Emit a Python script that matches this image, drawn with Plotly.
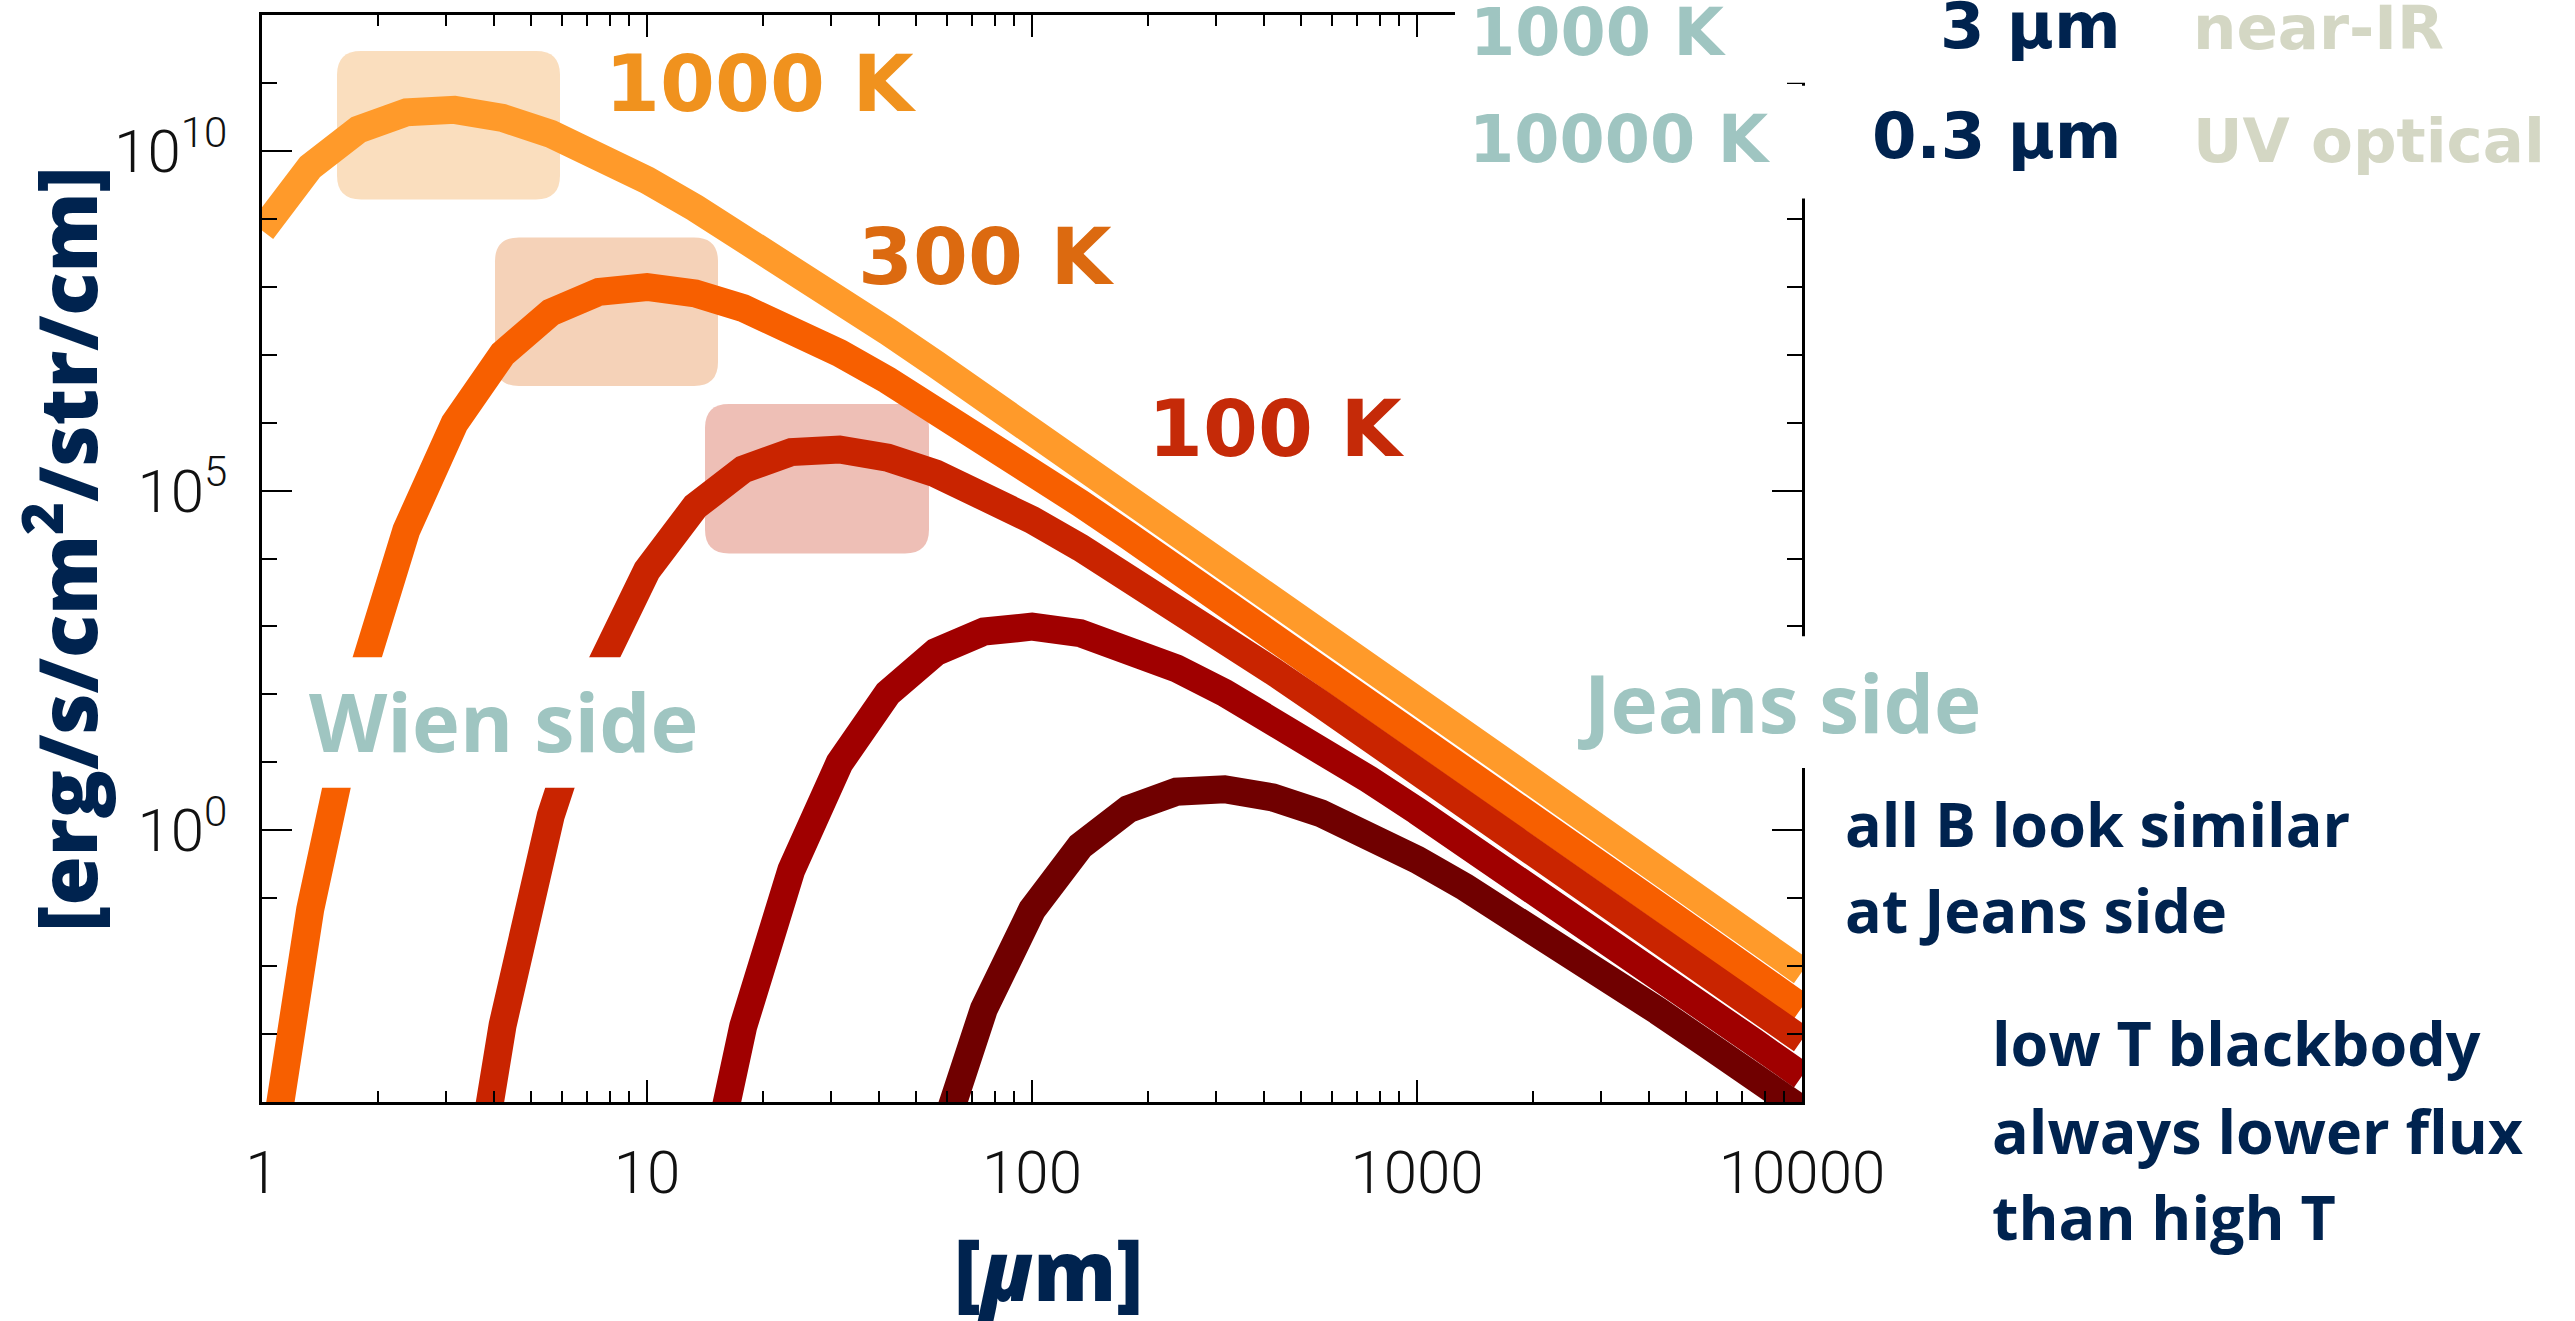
import plotly.graph_objects as go

# ---------------- data ----------------
WAVELENGTH_UM = [1, 1.334, 1.778, 2.371, 3.162, 4.217, 5.623, 7.499,
                 10, 13.34, 17.78, 23.71, 31.62, 42.17, 56.23, 74.99,
                 100, 133.4, 177.8, 237.1, 316.2, 421.7, 562.3, 749.9,
                 1000, 1334, 1778, 2371, 3162, 4217, 5623, 7499, 10000]

B_1000K = [6.72e8, 5.82e9, 2.05e10, 3.69e10, 4.02e10, 3.05e10, 1.78e10, 8.64e9,
           3.70e9, 1.45e9, 5.38e8, 1.90e8, 6.54e7, 2.20e7, 7.26e6, 2.37e6,
           7.70e5, 2.48e5, 7.95e4, 2.54e4, 8.09e3, 2.57e3, 817, 259,
           82.2, 26.0, 8.25, 2.61, 0.826, 0.261, 0.0827, 0.0262, 0.00827]
B_300K = [1.77e-6, 0.0678, 130, 2.61e4, 9.76e5, 1.03e7, 4.19e7, 8.40e7,
          9.92e7, 7.96e7, 4.84e7, 2.42e7, 1.06e7, 4.22e6, 1.57e6, 5.61e5,
          1.93e5, 6.53e4, 2.16e4, 7.09e3, 2.30e3, 741, 238, 76.0,
          24.2, 7.71, 2.45, 0.777, 0.246, 0.0781, 0.0247, 0.00783, 0.00248]
B_100K = [6.55e-8, 1.36e-3, 1.64, 234,
          6.72e3, 5.82e4, 2.05e5, 3.69e5, 4.02e5, 3.05e5, 1.78e5, 8.64e4,
          3.70e4, 1.45e4, 5.38e3, 1.90e3, 654, 220, 72.6, 23.7,
          7.70, 2.48, 0.795, 0.254, 0.0809, 0.0257, 0.00817, 0.00259, 8.22e-4]
B_30K = [6.78e-7, 1.30e-3, 0.261, 9.76, 103, 419, 840,
         992, 796, 484, 242, 106, 42.2, 15.7, 5.61,
         1.93, 0.653, 0.216, 0.0709, 0.0230, 0.00742, 0.00238, 7.60e-4, 2.42e-4]
B_10K = [1.64e-5, 2.34e-3,
         0.0672, 0.582, 2.05, 3.69, 4.02, 3.05, 1.78, 0.864,
         0.370, 0.145, 0.0538, 0.0190, 6.54e-3, 2.20e-3, 7.26e-4, 2.37e-4, 7.70e-5]

SERIES = [("1000 K", B_1000K, "#FF9A2A"),
          ("300 K", B_300K, "#F75F00"),
          ("100 K", B_100K, "#C92400"),
          ("30 K", B_30K, "#A00000"),
          ("10 K", B_10K, "#700000")]

X_TICKS = [1, 10, 100, 1000, 10000]
X_TICK_TEXT = ["1", "10", "100", "1000", "10000"]
X_MINOR = [m * 10 ** e for e in range(4) for m in range(2, 10)]
Y_TICKS = [1, 1e5, 1e10]
Y_TICK_TEXT = ["10<sup>0</sup>", "10<sup>5</sup>", "10<sup>10</sup>"]
Y_MINOR = [10.0 ** e for e in range(-4, 13)]

# ---------------- layout helpers (pixels -> paper) ----------------
W, H = 2575, 1321
L, R, T, B = 262, 1802, 12, 1102


def px(x):
    return (x - L) / (R - L)


def py(y):
    return (B - y) / (B - T)


NAVY = "#00234F"
TEAL = "#9FC5C1"
BEIGE = "#D4D7C4"

fig = go.Figure()
for name, vals, col in SERIES:
    n = len(vals)
    fig.add_trace(go.Scatter(x=WAVELENGTH_UM[-n:], y=vals, mode="lines", name=name,
                             line=dict(color=col, width=28), showlegend=False,
                             hoverinfo="skip"))


def rounded(x0, y0, x1, y1, r):
    def P(x, y):
        return f"{px(x):.5f},{py(y):.5f}"
    return (f"M {P(x0 + r, y0)} L {P(x1 - r, y0)} Q {P(x1, y0)} {P(x1, y0 + r)} "
            f"L {P(x1, y1 - r)} Q {P(x1, y1)} {P(x1 - r, y1)} "
            f"L {P(x0 + r, y1)} Q {P(x0, y1)} {P(x0, y1 - r)} "
            f"L {P(x0, y0 + r)} Q {P(x0, y0)} {P(x0 + r, y0)} Z")


shapes = []
for (x0, y0, x1, y1, c) in [(337, 48, 560, 197, "#FADEBE"),
                            (495, 235, 718, 384, "#F5D2B8"),
                            (705, 402, 929, 552, "#EEBFB6")]:
    shapes.append(dict(type="path", path=rounded(x0, y0, x1, y1, 24), xref="paper", yref="paper",
                       fillcolor=c, line=dict(width=0), layer="below"))

for (x0, y0, x1, y1) in [(1455, -10, 2575, 80), (1455, 83, 2575, 196),
                         (287, 656, 708, 787), (1556, 635, 1998, 767)]:
    shapes.append(dict(type="rect", x0=px(x0), x1=px(x1), y0=py(y0), y1=py(y1),
                       xref="paper", yref="paper", fillcolor="white", line=dict(width=0),
                       layer="above"))

ann = []


def label(text, x, y, size, color, family, weight, xanchor="left", angle=0):
    ann.append(dict(text=text, x=px(x), y=py(y), xref="paper", yref="paper",
                    xanchor=xanchor, yanchor="middle", showarrow=False, textangle=angle,
                    font=dict(size=size, color=color, family=family, weight=weight)))


HEAVY = "DejaVu Sans"
label("1000 K", 603, 81.5, 79, "#F0921E", HEAVY, 700)
label("300 K", 856, 254.5, 79, "#DC6A10", HEAVY, 700)
label("100 K", 1146, 427.5, 79, "#C52A08", HEAVY, 700)

label("1000 K", 1468, 30, 65, TEAL, HEAVY, 700)
label("10000 K", 1467, 137, 65, TEAL, HEAVY, 700)
label("3 μm", 2123, 23, 64, NAVY, HEAVY, 700, xanchor="right")
label("0.3 μm", 2123, 133, 64, NAVY, HEAVY, 700, xanchor="right")
label("near-IR", 2191, 25, 61, BEIGE, HEAVY, 700)
label("UV optical", 2191, 138, 61, BEIGE, HEAVY, 700)

label("Wien side", 307, 719.5, 81, TEAL, "Open Sans", 700)
label("Jeans side", 1576, 700, 80, TEAL, "Open Sans", 700)

label("all B look similar", 1843, 822.5, 61, NAVY, "Open Sans", 700)
label("at Jeans side", 1843, 908.5, 61, NAVY, "Open Sans", 700)
label("low T blackbody", 1990, 1042.5, 61, NAVY, "Open Sans", 700)
label("always lower flux", 1990, 1130.5, 61, NAVY, "Open Sans", 700)
label("than high T", 1990, 1216.5, 61, NAVY, "Open Sans", 700)

label("[erg/s/cm<sup>2</sup>/str/cm]", 62, 548, 80, NAVY, "Open Sans", 800, xanchor="center", angle=-90)
label("[<i>μ</i>m]", 1048, 1269, 83, NAVY, "Open Sans", 800, xanchor="center")

TICKFONT = dict(family="Roboto", size=60, color="#111111", weight=300)

fig.update_layout(
    width=W, height=H,
    margin=dict(l=L, r=W - R, t=T, b=H - B, pad=0),
    paper_bgcolor="white", plot_bgcolor="white",
    shapes=shapes, annotations=ann,
    xaxis=dict(type="log", range=[0, 4], showline=True, linecolor="black", linewidth=2.5,
               mirror="allticks", ticks="inside", ticklen=22, tickwidth=2, tickcolor="black",
               tickmode="array", tickvals=X_TICKS, ticktext=X_TICK_TEXT, tickfont=TICKFONT,
               ticklabelstandoff=16, showgrid=False, zeroline=False,
               minor=dict(tickmode="array", tickvals=X_MINOR, ticks="inside", ticklen=11,
                          tickwidth=2, tickcolor="black", showgrid=False)),
    yaxis=dict(type="log", range=[-4, 12], showline=True, linecolor="black", linewidth=2.5,
               mirror="allticks", ticks="inside", ticklen=30, tickwidth=2, tickcolor="black",
               tickmode="array", tickvals=Y_TICKS, ticktext=Y_TICK_TEXT, tickfont=TICKFONT,
               ticklabelstandoff=20, showgrid=False, zeroline=False,
               minor=dict(tickmode="array", tickvals=Y_MINOR, ticks="inside", ticklen=15,
                          tickwidth=2, tickcolor="black", showgrid=False)),
)

fig.write_html("out.html", config={"displayModeBar": False},
               post_script="document.body.style.margin='0';document.body.style.overflow='hidden';")
